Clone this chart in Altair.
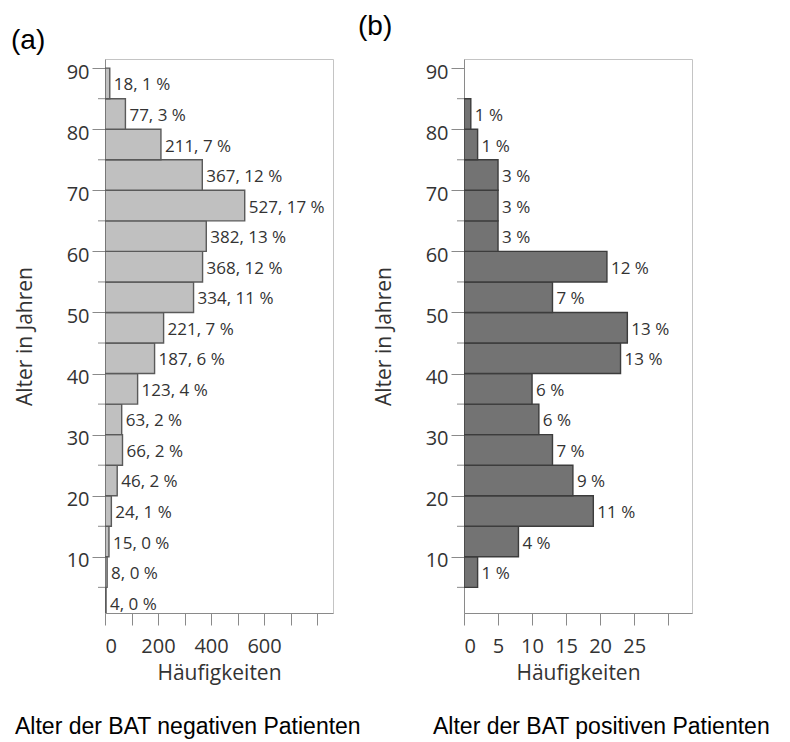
import altair as alt
import pandas as pd

# ---------------- data ----------------
neg_bin_start = [0, 5, 10, 15, 20, 25, 30, 35, 40, 45, 50, 55, 60, 65, 70, 75, 80, 85]
neg_counts = [4, 8, 15, 24, 46, 66, 63, 123, 187, 221, 334, 368, 382, 527, 367, 211, 77, 18]
neg_pct = [0, 0, 0, 1, 2, 2, 2, 4, 6, 7, 11, 12, 13, 17, 12, 7, 3, 1]

pos_bin_start = [5, 10, 15, 20, 25, 30, 35, 40, 45, 50, 55, 60, 65, 70, 75, 80]
pos_counts = [2, 8, 19, 16, 13, 11, 10, 23, 24, 13, 21, 5, 5, 5, 2, 1]
pos_pct = [1, 4, 11, 9, 7, 6, 6, 13, 13, 7, 12, 3, 3, 3, 1, 1]

y_major_ticks = [10, 20, 30, 40, 50, 60, 70, 80, 90]
y_minor_ticks = [5, 15, 25, 35, 45, 55, 65, 75, 85]
neg_x_ticks = [0, 100, 200, 300, 400, 500, 600, 700, 800]
neg_x_labels = [0, 200, 400, 600]
pos_x_ticks = [0, 5, 10, 15, 20, 25, 30]
pos_x_labels = [0, 5, 10, 15, 20, 25]

y_title = "Alter in Jahren"
x_title = "Häufigkeiten"
neg_caption = "Alter der BAT negativen Patienten"
pos_caption = "Alter der BAT positiven Patienten"

BIN = 5
SANS = "Open Sans"
AXIS_COL = "#8a8a8a"
TEXT_COL = "#333333"


def panel(starts, counts, labels, x_domain, x_ticks, x_labels, fill, stroke,
          tag, tag_x, tag_y, caption, cap_x, cap_y):
    df = pd.DataFrame({
        "start": starts,
        "end": [s + BIN for s in starts],
        "mid": [s + BIN / 2 for s in starts],
        "count": counts,
        "label": labels,
    })
    y_scale = alt.Scale(domain=[0.8, 91.5], nice=False, zero=False)
    x_scale = alt.Scale(domain=x_domain, nice=False, zero=True)
    shown = "[" + ",".join(str(v) for v in x_labels) + "]"
    x_axis = alt.Axis(values=x_ticks, title=x_title, tickSize=12,
                      labelPadding=11, titlePadding=6, labelOverlap=False,
                      labelExpr=f"indexof({shown}, datum.value) >= 0 ? datum.label : ''")
    y_axis = alt.Axis(values=y_major_ticks, title=y_title, tickSize=13,
                      labelPadding=3, labelOffset=4, titlePadding=31,
                      labelOverlap=False)

    bars = alt.Chart(df).mark_rect(
        fill=fill, stroke=stroke, strokeWidth=1.4, clip=True
    ).encode(
        x=alt.X("count:Q", scale=x_scale, axis=x_axis),
        x2=alt.datum(0),
        y=alt.Y("start:Q", scale=y_scale, axis=y_axis),
        y2="end:Q",
    )

    minor = alt.Chart(pd.DataFrame({"m": y_minor_ticks})).mark_rule(
        color=AXIS_COL, strokeWidth=1
    ).encode(
        y=alt.Y("m:Q", scale=y_scale, axis=y_axis),
        x=alt.value(-7),
        x2=alt.value(0),
    )

    text = alt.Chart(df).mark_text(
        align="left", baseline="middle", dx=4, dy=2,
        font=SANS, fontSize=17, color=TEXT_COL
    ).encode(
        x=alt.X("count:Q", scale=x_scale, axis=x_axis),
        y=alt.Y("mid:Q", scale=y_scale, axis=y_axis),
        text="label:N",
    )

    tag_layer = alt.Chart(pd.DataFrame({"t": [tag]})).mark_text(
        align="left", baseline="alphabetic", font="Liberation Sans",
        fontSize=28, color="black"
    ).encode(text="t:N", x=alt.value(tag_x), y=alt.value(tag_y))

    cap_layer = alt.Chart(pd.DataFrame({"t": [caption]})).mark_text(
        align="left", baseline="alphabetic", font="Liberation Sans",
        fontSize=23, color="black"
    ).encode(text="t:N", x=alt.value(cap_x), y=alt.value(cap_y))

    return alt.layer(bars, minor, text, tag_layer, cap_layer).properties(
        width=228, height=554
    )


neg_labels = [f"{c}, {p} %" for c, p in zip(neg_counts, neg_pct)]
pos_labels = [f"{p} %" for p in pos_pct]

chart_a = panel(neg_bin_start, neg_counts, neg_labels, [0, 860], neg_x_ticks, neg_x_labels,
                "#c0c0c0", "#5a5a5a", "(a)", -94, -10, neg_caption, -90, 675)
chart_b = panel(pos_bin_start, pos_counts, pos_labels, [0, 33.5], pos_x_ticks, pos_x_labels,
                "#737373", "#3c3c3c", "(b)", -106, -24, pos_caption, -31, 675)

chart = alt.hconcat(chart_a, chart_b, spacing=131, bounds="flush").properties(
    padding={"left": 2, "top": 4, "right": 0, "bottom": 0}
).configure_view(
    stroke="#c4c4c4", strokeWidth=1
).configure_axis(
    grid=False,
    domainColor=AXIS_COL,
    tickColor=AXIS_COL,
    labelColor=TEXT_COL,
    titleColor=TEXT_COL,
    labelFont=SANS,
    titleFont=SANS,
    labelFontSize=20,
    titleFontSize=21,
    titleFontWeight="normal",
)

chart.save("out.html", embed_options={"renderer": "svg", "actions": False})
